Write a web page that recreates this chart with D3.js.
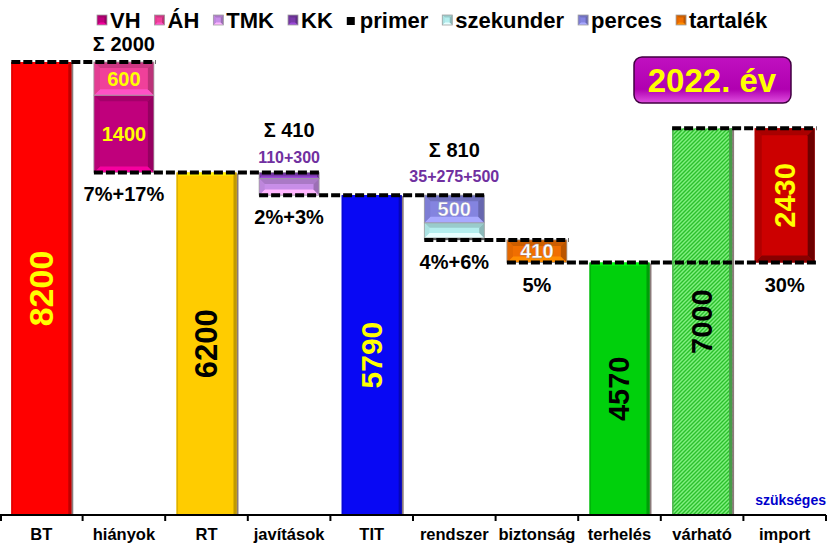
<!DOCTYPE html>
<html><head><meta charset="utf-8">
<script src="https://cdn.jsdelivr.net/npm/d3@7"></script>
<style>
html,body{margin:0;padding:0;background:#fff;}
svg text{font-family:"Liberation Sans",Arial,sans-serif;font-weight:bold;}
</style></head>
<body><svg id="c" width="833" height="547"></svg>
<script>
// ---- data ----
const categories = ["BT","hiányok","RT","javítások","TIT","rendszer","biztonság","terhelés","várható","import"];
const totalCats = ["BT","RT","TIT","terhelés","várható"];
const totalValues = [8200, 6200, 5790, 4570, 7000];
const legendNames = ["VH","ÁH","TMK","KK","primer","szekunder","perces","tartalék"];
const hianyokSeries = ["VH","ÁH"];
const hianyokValues = [1400, 600];
const javitasokSeries = ["TMK","KK"];
const javitasokValues = [300, 110];
const rendszerSeries = ["primer","szekunder","perces"];
const rendszerValues = [35, 275, 500];
const biztonsagSeries = ["tartalék"];
const biztonsagValues = [410];
const importValue = 2430;
const sumLabels = ["", "Σ 2000", "", "Σ 410", "", "Σ 810", "", "", "", ""];
const subLabels = ["", "", "", "110+300", "", "35+275+500", "", "", "", ""];
const percentLabels = ["", "7%+17%", "", "2%+3%", "", "4%+6%", "5%", "", "", "30%"];
const yearLabel = "2022. év";
const noteLabel = "szükséges";

// ---- styles ----
const colors = {VH:"#c0007c","ÁH":"#f0409a",TMK:"#c88ee8",KK:"#7a3aaa",primer:"#000000",
  szekunder:"#b4eeee",perces:"#8484e0","tartalék":"#f06e00"};
const totalColors = {BT:"#ff0000",RT:"#ffcc00",TIT:"#0808f4","terhelés":"#00d00c","várható":"url(#hatch)"};
const totalTextColors = {BT:"#ffff00",RT:"#000000",TIT:"#ffff00","terhelés":"#000000","várható":"#000000"};
const totalFont = {BT:34,RT:31,TIT:30,"terhelés":29,"várható":29};

const svg = d3.select("#c");
const defs = svg.append("defs");
const pat = defs.append("pattern").attr("id","hatch").attr("patternUnits","userSpaceOnUse")
  .attr("width",4).attr("height",4);
pat.append("rect").attr("width",4).attr("height",4).attr("fill","#80f080");
pat.append("path").attr("d","M0,4 L4,0 M-1,1 L1,-1 M3,5 L5,3").attr("stroke","#2cc02c").attr("stroke-width",1.4);
const bg = defs.append("linearGradient").attr("id","yearGrad").attr("x1",0).attr("y1",0).attr("x2",0).attr("y2",1);
bg.append("stop").attr("offset","0").attr("stop-color","#c010c0");
bg.append("stop").attr("offset","0.7").attr("stop-color","#b000b0");
bg.append("stop").attr("offset","1").attr("stop-color","#e050e0");

const x = d3.scaleBand().domain(categories).range([0, 826]).paddingInner(0.274).paddingOuter(0.137);
const y = d3.scaleLinear().domain([0, 8200]).range([515, 62]);
const bw = x.bandwidth();

function bevel(g, x0, y0, w, h, base, b) {
  const c = d3.color(base);
  b = Math.min(b, h/3, w/3);
  g.append("rect").attr("x",x0).attr("y",y0).attr("width",w).attr("height",h).attr("fill",base);
  const P = (pts, col) => g.append("polygon").attr("points", pts.map(p=>p.join(",")).join(" ")).attr("fill", col);
  P([[x0,y0],[x0+w,y0],[x0+w-b,y0+b],[x0+b,y0+b]], c.darker(0.45));
  P([[x0,y0+h],[x0+w,y0+h],[x0+w-b,y0+h-b],[x0+b,y0+h-b]], c.brighter(0.7));
  P([[x0,y0],[x0+b,y0+b],[x0+b,y0+h-b],[x0,y0+h]], c.darker(0.15));
  P([[x0+w,y0],[x0+w-b,y0+b],[x0+w-b,y0+h-b],[x0+w,y0+h]], c.darker(0.7));
  g.append("rect").attr("x",x0).attr("y",y0).attr("width",w).attr("height",h)
    .attr("fill","none").attr("stroke","#a0a0a0").attr("stroke-width",0.8);
}

const gBars = svg.append("g");
// total bars
totalCats.forEach((cat,i) => {
  const v = totalValues[i];
  const x0 = x(cat), y0 = y(v), h = y(0) - y(v);
  const fill = totalColors[cat];
  const base = cat === "várható" ? "#60d060" : fill;
  const c = d3.color(base);
  gBars.append("rect").attr("x",x0+bw-1).attr("y",y0+1).attr("width",3).attr("height",h-1).attr("fill","#8a7a7a");
  gBars.append("rect").attr("x",x0).attr("y",y0).attr("width",bw).attr("height",h).attr("fill",fill);
  gBars.append("rect").attr("x",x0).attr("y",y0).attr("width",1.5).attr("height",h).attr("fill",c.darker(0.4));
  gBars.append("rect").attr("x",x0+bw-3).attr("y",y0).attr("width",3).attr("height",h).attr("fill",c.darker(0.8));
  if (cat !== "várható")
    gBars.append("rect").attr("x",x0+2).attr("y",y0).attr("width",bw-5).attr("height",3).attr("fill",c.brighter(0.5));
});

// stacked segments
function stack(cat, series, values, base) {
  let acc = base;
  series.forEach((s,i) => {
    const v = values[i];
    const y0 = y(acc + v), y1 = y(acc);
    bevel(gBars, x(cat), y0, bw, y1 - y0, colors[s], 6);
    if (y1 - y0 > 20) {
      const light = (s === "VH" || s === "ÁH");
      gBars.append("text").attr("x", x(cat)+bw/2).attr("y",(y0+y1)/2)
        .attr("dy","0.36em").attr("text-anchor","middle")
        .attr("font-size",20).attr("fill", light ? "#ffff00" : "#ffffff")
        .attr("stroke", light ? "none" : "#8080a0").attr("stroke-width",0.3)
        .text(v);
    }
    acc += v;
  });
}
stack("hiányok", hianyokSeries, hianyokValues, totalValues[1]);
stack("javítások", javitasokSeries, javitasokValues, totalValues[2]);
const rendszerBase = totalValues[2] - d3.sum(rendszerValues);
stack("rendszer", rendszerSeries, rendszerValues, rendszerBase);
stack("biztonság", biztonsagSeries, biztonsagValues, totalValues[3]);
// import bar
{
  const y0 = y(totalValues[3] + importValue), y1 = y(totalValues[3]);
  const g = gBars, x0 = x("import"), w = bw, h = y1 - y0, b = 7;
  g.append("rect").attr("x",x0).attr("y",y0).attr("width",w).attr("height",h).attr("fill","#cc0000");
  const P = (pts, col) => g.append("polygon").attr("points", pts.map(p=>p.join(",")).join(" ")).attr("fill", col);
  P([[x0,y0],[x0+w,y0],[x0+w-b,y0+b],[x0+b,y0+b]], "#a80000");
  P([[x0,y0+h],[x0+w,y0+h],[x0+w-b,y0+h-b],[x0+b,y0+h-b]], "#880000");
  P([[x0,y0],[x0+b,y0+b],[x0+b,y0+h-b],[x0,y0+h]], "#b00000");
  P([[x0+w,y0],[x0+w-b,y0+b],[x0+w-b,y0+h-b],[x0+w,y0+h]], "#6e0000");
  g.append("text").attr("transform",`translate(${x0+w/2},${(y0+y1)/2}) rotate(-90)`)
    .attr("dy","0.36em").attr("text-anchor","middle").attr("font-size",29).attr("fill","#ffff00").text(importValue);
}

// total labels
totalCats.forEach((cat,i) => {
  const v = totalValues[i];
  svg.append("text").attr("transform",`translate(${x(cat)+bw/2-1},${(y(v)+y(0))/2}) rotate(-90)`)
    .attr("dy","0.36em").attr("text-anchor","middle").attr("font-size",totalFont[cat])
    .attr("fill",totalTextColors[cat]).text(v);
});

// dashed connectors
const links = [
  [totalValues[0], "BT", "hiányok"],
  [totalValues[1], "hiányok", "javítások"],
  [totalValues[2], "javítások", "rendszer"],
  [rendszerBase, "rendszer", "biztonság"],
  [totalValues[3], "biztonság", "import"],
  [totalValues[4], "várható", "import"]
];
links.forEach(([v,a,b]) => {
  svg.append("line").attr("x1",x(a)).attr("x2",x(b)+bw+2).attr("y1",y(v)).attr("y2",y(v))
    .attr("stroke","#000").attr("stroke-width",4).attr("stroke-dasharray","9,3");
});

// annotations
const topOf = {
  "hiányok": totalValues[1] + d3.sum(hianyokValues),
  "javítások": totalValues[2] + d3.sum(javitasokValues),
  "rendszer": totalValues[2]
};
const bottomOf = {
  "hiányok": totalValues[1], "javítások": totalValues[2], "rendszer": rendszerBase,
  "biztonság": totalValues[3], "import": totalValues[3]
};
categories.forEach((cat,i) => {
  const cx = x(cat) + bw/2;
  if (sumLabels[i]) {
    const t = y(topOf[cat]);
    const hasSub = !!subLabels[i];
    svg.append("text").attr("x",cx).attr("y", hasSub ? t - (cat==="rendszer"?38:35) : t - 11)
      .attr("text-anchor","middle").attr("font-size",20).attr("fill","#000").text(sumLabels[i]);
    if (hasSub)
      svg.append("text").attr("x",cx).attr("y", t - (cat==="rendszer"?13:9))
        .attr("text-anchor","middle").attr("font-size",16).attr("fill","#7030a0").text(subLabels[i]);
  }
  if (percentLabels[i]) {
    svg.append("text").attr("x",cx).attr("y", y(bottomOf[cat]) + 29)
      .attr("text-anchor","middle").attr("font-size",20).attr("fill","#000").text(percentLabels[i]);
  }
});

// axis
const axisG = svg.append("g").attr("transform","translate(0,515)");
axisG.append("line").attr("x1",0).attr("x2",826).attr("stroke","#000").attr("stroke-width",2);
const edges = categories.map(c => x(c) - x.step()*x.paddingInner()/2).concat([826]);
edges[0] = 1;
axisG.selectAll("line.tick").data(edges).join("line").attr("class","tick")
  .attr("x1",d=>d).attr("x2",d=>d).attr("y1",0).attr("y2",6).attr("stroke","#000").attr("stroke-width",2);
axisG.selectAll("text.lab").data(categories).join("text").attr("class","lab")
  .attr("x",d=>x(d)+bw/2).attr("y",25).attr("text-anchor","middle").attr("font-size",16.5).attr("fill","#000").text(d=>d);

svg.append("text").attr("x",826).attr("y",505).attr("text-anchor","end").attr("font-size",14)
  .attr("fill","#0000cc").text(noteLabel);

// year box
svg.append("rect").attr("x",634).attr("y",57).attr("width",157).attr("height",46).attr("rx",8)
  .attr("fill","url(#yearGrad)").attr("stroke","#400040").attr("stroke-width",1.5);
svg.append("text").attr("x",712).attr("y",92).attr("text-anchor","middle").attr("font-size",33)
  .attr("fill","#ffff00").text(yearLabel);

// legend
let lx = 97;
const legG = svg.append("g");
legendNames.forEach(n => {
  if (n === "primer") {
    legG.append("rect").attr("x",lx).attr("y",17).attr("width",8).attr("height",8).attr("fill","#000");
  } else {
    bevel(legG, lx, 15, 10, 10, colors[n], 2.5);
  }
  const t = legG.append("text").attr("x",lx+13).attr("y",28).attr("font-size",22).attr("fill","#000").text(n);
  lx = lx + 13 + t.node().getComputedTextLength() + 14;
});
</script></body></html>
